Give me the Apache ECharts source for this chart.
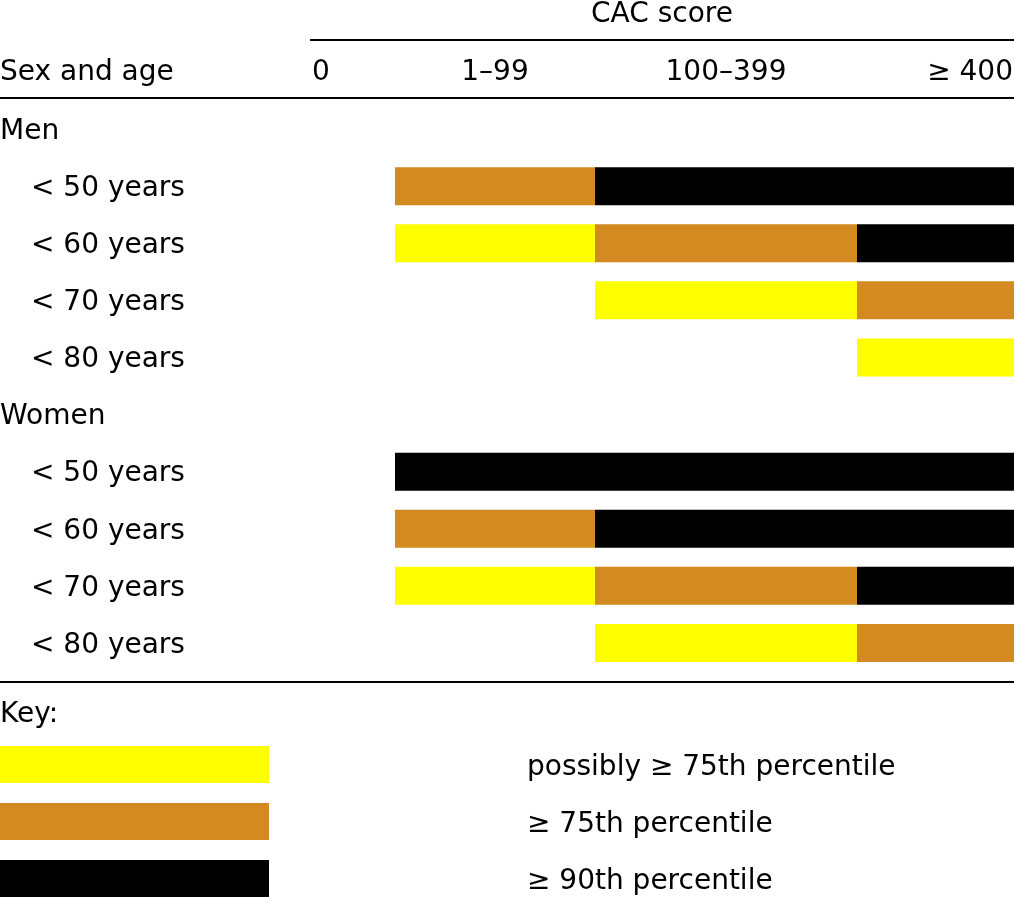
<!DOCTYPE html>
<html>
<head>
<meta charset="utf-8">
<script src="https://cdn.jsdelivr.net/npm/echarts@6/dist/echarts.min.js"></script>
<style>
  html, body { margin: 0; padding: 0; background: #fff; }
  #chart { width: 1014px; height: 898px; }
</style>
</head>
<body>
<div id="chart"></div>
<script>
// rows of the table, top to bottom
const rowLabels = [
  'Men', '< 50 years', '< 60 years', '< 70 years', '< 80 years',
  'Women', '< 50 years', '< 60 years', '< 70 years', '< 80 years'
];
const cacColumns = ['0', '1\u201399', '100\u2013399', '\u2265 400'];
const levelNames = ['possibly \u2265 75th percentile', '\u2265 75th percentile', '\u2265 90th percentile'];
const levelColors = ['#ffff00', '#d38a21', '#000000'];
// percentile level per row and CAC column (0 = not flagged)
const cellLevels = [
  [0, 0, 0, 0],
  [0, 2, 3, 3],
  [0, 1, 2, 3],
  [0, 0, 1, 2],
  [0, 0, 0, 1],
  [0, 0, 0, 0],
  [0, 3, 3, 3],
  [0, 2, 3, 3],
  [0, 1, 2, 3],
  [0, 0, 1, 2]
];

// layout: drawn width of each CAC column
const colSpan = [85, 200, 262, 157];
const totalSpan = colSpan.reduce((a, b) => a + b, 0);
const FONT = 'DejaVu Sans';
const FS = 28;

function spanFor(row, level) {
  let s = 0;
  row.forEach((lv, c) => { if (lv === level) s += colSpan[c]; });
  return s;
}

const series = [{
  name: 'blank',
  type: 'bar',
  stack: 'row',
  barWidth: 38,
  silent: true,
  itemStyle: { color: 'transparent' },
  data: cellLevels.map(r => spanFor(r, 0))
}];
levelNames.forEach((name, i) => {
  series.push({
    name: name,
    type: 'bar',
    stack: 'row',
    barWidth: 38,
    itemStyle: { color: levelColors[i] },
    data: cellLevels.map(r => spanFor(r, i + 1))
  });
});

const chart = echarts.init(document.getElementById('chart'), null, { renderer: 'canvas' });
chart.setOption({
  animation: false,
  backgroundColor: '#fff',
  textStyle: { fontFamily: FONT },
  grid: { left: 310, right: 0, top: 100.5, bottom: 898 - 671.5, outerBoundsMode: 'none', containLabel: false },
  xAxis: {
    type: 'value', min: 0, max: totalSpan,
    show: false
  },
  yAxis: {
    type: 'category',
    inverse: true,
    data: rowLabels.map((_, i) => String(i)),
    axisLine: { show: false },
    axisTick: { show: false },
    splitLine: { show: false },
    axisLabel: {
      align: 'left',
      margin: 310,
      formatter: v => {
        const t = rowLabels[+v];
        return t.startsWith('<') ? '{sub|' + t + '}' : '{grp|' + t + '}';
      },
      rich: {
        grp: { fontFamily: FONT, fontSize: FS, color: '#000', padding: [5, 0, 0, 0] },
        sub: { fontFamily: FONT, fontSize: FS, color: '#000', padding: [5, 0, 0, 31] }
      }
    }
  },
  legend: {
    data: levelNames,
    orient: 'vertical',
    left: 0,
    top: 746,
    height: 200,
    padding: 0,
    itemWidth: 269,
    itemHeight: 37,
    itemGap: 20,
    icon: 'rect',
    selectedMode: false,
    formatter: name => '{t|' + name + '}',
    textStyle: {
      fontFamily: FONT, fontSize: 28, color: '#000',
      rich: { t: { fontFamily: FONT, fontSize: 28, color: '#000', padding: [6, 0, 0, 253] } }
    }
  },
  series: series
});

// header texts and rules placed through the x scale
const x0 = chart.convertToPixel({ xAxisIndex: 0 }, 0);
const edges = [0];
colSpan.forEach((w, i) => edges.push(edges[i] + w));
const px = edges.map(e => chart.convertToPixel({ xAxisIndex: 0 }, e));
const txt = (text, x, y, align) => ({
  type: 'text', x: x, y: y,
  style: { text: text, fontFamily: FONT, fontSize: FS, fill: '#000', align: align, verticalAlign: 'middle' }
});
const rule = (xa, xb, y) => ({
  type: 'line', shape: { x1: xa, y1: y, x2: xb, y2: y },
  style: { stroke: '#000', lineWidth: 2 }
});
const headers = cacColumns.map((c, i) => {
  if (i === 0) return txt(c, px[0] + 2, 73, 'left');
  if (i === cacColumns.length - 1) return txt(c, px[i + 1] - 1, 73, 'right');
  return txt(c, (px[i] + px[i + 1]) / 2, 73, 'center');
});
chart.setOption({
  graphic: [
    txt('CAC score', (x0 + px[px.length - 1]) / 2, 15, 'center'),
    rule(x0, 1014, 40),
    txt('Sex and age', 0, 73, 'left'),
    ...headers,
    rule(0, 1014, 98),
    rule(0, 1014, 682),
    txt('Key:', 0, 715, 'left')
  ]
});
</script>
</body>
</html>
